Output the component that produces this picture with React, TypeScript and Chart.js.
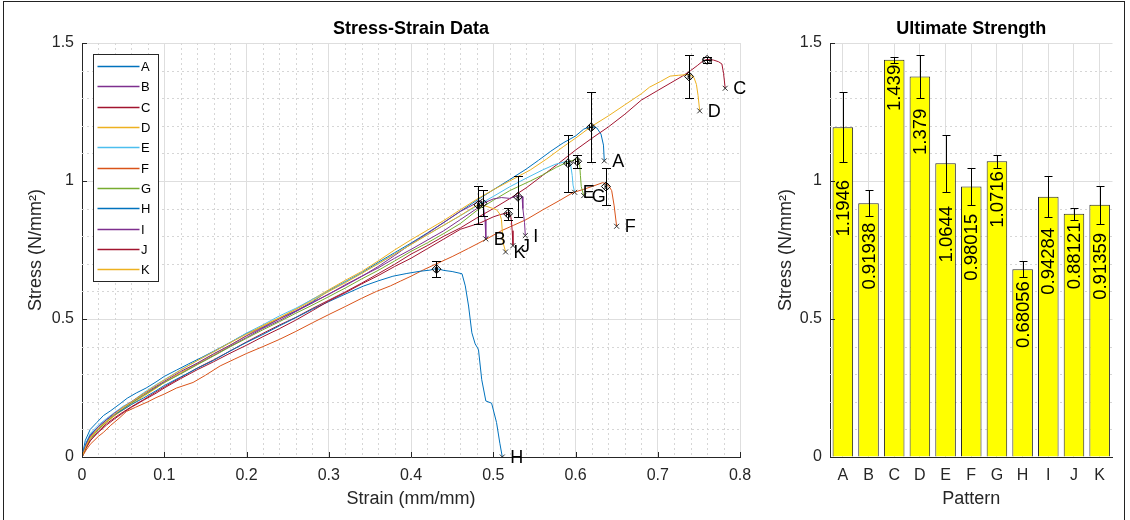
import React, { useEffect, useRef } from 'react';
import { Chart, registerables } from 'chart.js';

Chart.register(...registerables);

// ---------- data ----------
const patterns = ['A', 'B', 'C', 'D', 'E', 'F', 'G', 'H', 'I', 'J', 'K'];
const ultimateStrength = [1.1946, 0.91938, 1.439, 1.379, 1.0644, 0.98015, 1.0716, 0.68056, 0.94284, 0.88121, 0.91359];
const strengthError = [0.127, 0.047, 0.012, 0.078, 0.103, 0.066, 0.024, 0.029, 0.075, 0.021, 0.068];
const strainAtUltimate = [0.619, 0.487, 0.76, 0.738, 0.591, 0.637, 0.602, 0.431, 0.53, 0.518, 0.482];
const strainError = [0.002, 0.001, 0.005, 0.001, 0.002, 0.001, 0.002, 0.001, 0.001, 0.002, 0.001];
const seriesColors = ['#0072BD', '#7E2F8E', '#A2142F', '#EDB120', '#4DBEEE', '#D95319', '#77AC30', '#0072BD', '#7E2F8E', '#A2142F', '#EDB120'];
const strainTicks = [0, 0.1, 0.2, 0.3, 0.4, 0.5, 0.6, 0.7, 0.8];
const stressTicks = [0, 0.5, 1, 1.5];

const curveA = [[0,0],[.004,.06],[.01,.1],[.018,.125],[.026,.15],[.035,.168],[.045,.19],[.055,.213],[.066,.232],[.078,.25],[.09,.272],[.1,.292],[.115,.315],[.13,.338],[.145,.36],[.16,.383],[.18,.415],[.2,.448],[.22,.47],[.24,.503],[.26,.528],[.28,.562],[.3,.603],[.32,.635],[.34,.668],[.36,.705],[.38,.74],[.4,.775],[.42,.812],[.44,.85],[.46,.89],[.48,.93],[.5,.968],[.52,1.005],[.54,1.043],[.555,1.075],[.57,1.108],[.585,1.138],[.6,1.163],[.61,1.188],[.619,1.198],[.626,1.192],[.631,1.17],[.634,1.13],[.635,1.073]];
const curveB = [[0,0],[.005,.04],[.01,.072],[.02,.104],[.03,.13],[.04,.152],[.05,.174],[.06,.196],[.075,.224],[.09,.253],[.1,.27],[.12,.303],[.14,.336],[.16,.368],[.18,.401],[.2,.433],[.22,.466],[.24,.494],[.26,.527],[.28,.558],[.3,.59],[.32,.621],[.34,.654],[.36,.69],[.38,.73],[.4,.772],[.42,.81],[.44,.85],[.46,.89],[.47,.905],[.478,.918],[.484,.93],[.488,.913],[.49,.86],[.491,.79]];
const curveC = [[0,0],[.005,.032],[.01,.058],[.02,.094],[.03,.121],[.04,.143],[.05,.163],[.06,.182],[.075,.208],[.09,.236],[.1,.254],[.12,.288],[.14,.322],[.16,.352],[.18,.384],[.2,.417],[.22,.448],[.24,.478],[.26,.506],[.28,.538],[.3,.568],[.32,.598],[.34,.63],[.36,.664],[.38,.698],[.4,.735],[.42,.766],[.44,.8],[.46,.83],[.48,.866],[.5,.9],[.52,.936],[.54,.975],[.56,1.02],[.58,1.065],[.6,1.112],[.62,1.155],[.64,1.196],[.66,1.242],[.68,1.293],[.7,1.328],[.715,1.354],[.73,1.38],[.74,1.4],[.748,1.418],[.755,1.435],[.76,1.441],[.768,1.438],[.774,1.432],[.778,1.424],[.78,1.39],[.782,1.336]];
const curveD = [[0,0],[.005,.042],[.01,.07],[.02,.1],[.03,.126],[.04,.15],[.05,.171],[.06,.19],[.075,.22],[.09,.249],[.1,.27],[.12,.306],[.14,.339],[.16,.372],[.18,.405],[.2,.44],[.22,.474],[.24,.502],[.26,.536],[.28,.571],[.3,.606],[.32,.64],[.34,.672],[.36,.71],[.38,.75],[.4,.787],[.42,.822],[.44,.857],[.46,.896],[.48,.934],[.5,.968],[.52,1.0],[.545,1.04],[.565,1.08],[.585,1.124],[.6,1.155],[.618,1.195],[.64,1.236],[.66,1.276],[.68,1.316],[.69,1.34],[.703,1.36],[.715,1.38],[.725,1.383],[.738,1.386],[.744,1.375],[.747,1.35],[.749,1.31],[.751,1.254]];
const curveE = [[0,0],[.005,.052],[.01,.085],[.02,.116],[.03,.14],[.04,.162],[.05,.184],[.06,.2],[.075,.233],[.09,.262],[.1,.28],[.12,.316],[.14,.349],[.16,.381],[.18,.414],[.2,.449],[.22,.479],[.24,.511],[.26,.539],[.28,.571],[.3,.601],[.32,.634],[.34,.666],[.36,.7],[.38,.735],[.4,.77],[.42,.806],[.44,.84],[.46,.874],[.48,.91],[.5,.944],[.52,.979],[.54,1.01],[.56,1.04],[.575,1.06],[.585,1.068],[.591,1.071],[.594,1.06],[.596,1.02],[.597,.985],[.599,.959]];
const curveF = [[0,0],[.005,.025],[.01,.046],[.02,.075],[.026,.089],[.035,.115],[.045,.14],[.054,.165],[.065,.18],[.08,.2],[.09,.215],[.1,.228],[.115,.25],[.135,.27],[.15,.296],[.168,.33],[.185,.354],[.2,.375],[.22,.4],[.24,.426],[.26,.455],[.28,.486],[.3,.516],[.32,.545],[.34,.575],[.358,.6],[.375,.62],[.387,.637],[.4,.655],[.415,.678],[.431,.7],[.45,.726],[.47,.756],[.492,.79],[.51,.82],[.525,.84],[.54,.86],[.56,.895],[.581,.93],[.597,.958],[.61,.97],[.621,.981],[.633,.994],[.637,.99],[.641,.98],[.644,.965],[.647,.91],[.65,.836]];
const curveG = [[0,0],[.005,.035],[.01,.064],[.02,.1],[.03,.128],[.04,.154],[.05,.175],[.06,.195],[.075,.224],[.09,.251],[.1,.27],[.12,.301],[.14,.334],[.16,.366],[.18,.399],[.2,.43],[.22,.461],[.24,.49],[.26,.521],[.28,.55],[.3,.581],[.32,.612],[.34,.645],[.36,.676],[.38,.71],[.4,.745],[.42,.776],[.44,.81],[.46,.846],[.48,.893],[.5,.93],[.52,.965],[.545,1.0],[.56,1.022],[.577,1.05],[.59,1.068],[.599,1.077],[.603,1.083],[.605,1.06],[.606,1.02],[.607,.98],[.61,.947]];
const curveH = [[0,0],[.005,.05],[.01,.08],[.02,.11],[.03,.135],[.04,.155],[.05,.171],[.06,.19],[.075,.214],[.09,.24],[.1,.259],[.12,.29],[.14,.321],[.16,.35],[.18,.384],[.2,.415],[.22,.444],[.24,.475],[.26,.505],[.28,.535],[.3,.563],[.32,.59],[.342,.619],[.36,.638],[.378,.655],[.395,.665],[.411,.673],[.423,.677],[.431,.683],[.44,.676],[.45,.672],[.462,.664],[.466,.62],[.47,.547],[.474,.45],[.478,.41],[.482,.39],[.486,.28],[.491,.203],[.498,.195],[.504,.125],[.508,.05],[.511,0]];
const curveI = [[0,0],[.005,.046],[.01,.076],[.02,.11],[.03,.136],[.04,.16],[.05,.18],[.06,.2],[.075,.229],[.09,.256],[.1,.274],[.12,.31],[.14,.34],[.16,.374],[.18,.405],[.2,.439],[.22,.469],[.24,.5],[.26,.53],[.28,.56],[.3,.59],[.32,.624],[.34,.655],[.36,.685],[.38,.72],[.4,.752],[.42,.786],[.44,.82],[.46,.86],[.48,.9],[.49,.922],[.5,.935],[.51,.94],[.52,.937],[.53,.947],[.535,.943],[.536,.9],[.538,.85],[.539,.802]];
const curveJ = [[0,0],[.005,.034],[.01,.06],[.02,.09],[.03,.116],[.04,.139],[.05,.16],[.06,.18],[.075,.206],[.09,.231],[.1,.25],[.12,.284],[.14,.316],[.16,.345],[.18,.376],[.2,.405],[.22,.436],[.24,.465],[.26,.496],[.28,.53],[.3,.565],[.32,.595],[.34,.627],[.36,.657],[.38,.69],[.4,.72],[.42,.755],[.44,.79],[.46,.825],[.484,.848],[.5,.87],[.508,.878],[.518,.885],[.521,.875],[.522,.86],[.523,.82],[.524,.766]];
const curveK = [[0,0],[.005,.04],[.01,.07],[.02,.105],[.03,.13],[.04,.156],[.05,.18],[.06,.199],[.075,.23],[.09,.26],[.1,.279],[.12,.315],[.14,.349],[.16,.381],[.18,.414],[.2,.445],[.22,.476],[.24,.505],[.26,.535],[.28,.566],[.3,.6],[.32,.631],[.34,.665],[.36,.7],[.38,.735],[.4,.77],[.42,.805],[.44,.84],[.46,.875],[.476,.905],[.482,.914],[.49,.91],[.504,.896],[.508,.88],[.51,.86],[.512,.776],[.515,.743]];

const curves = [curveA, curveB, curveC, curveD, curveE, curveF, curveG, curveH, curveI, curveJ, curveK];

// ---------- styling ----------
const FONT = '"Liberation Sans", Arial, Helvetica, sans-serif';
const AXIS = '#262626';
const GRID = '#dedede';
const MINOR = '#d6d6d6';

const fmt = (v: number) => String(Number(Number(v).toFixed(2)));

function minorGridPlugin(xStep: number, xCount: number, yStep: number, yCount: number) {
  return {
    id: 'minorGrid',
    beforeDatasetsDraw(chart: any) {
      const { ctx, chartArea: a, scales } = chart;
      ctx.save();
      ctx.strokeStyle = MINOR;
      ctx.lineWidth = 1;
      ctx.setLineDash([2, 3]);
      if (xStep > 0) {
        for (let k = 1; k < xCount; k++) {
          if (k % 5 === 0) continue;
          const px = Math.round(scales.x.getPixelForValue(k * xStep)) + 0.5;
          ctx.beginPath();
          ctx.moveTo(px, a.top);
          ctx.lineTo(px, a.bottom);
          ctx.stroke();
        }
      }
      for (let k = 1; k < yCount; k++) {
        if (k % 5 === 0) continue;
        const py = Math.round(scales.y.getPixelForValue(k * yStep)) + 0.5;
        ctx.beginPath();
        ctx.moveTo(a.left, py);
        ctx.lineTo(a.right, py);
        ctx.stroke();
      }
      ctx.restore();
    },
  };
}

function inwardTicksPlugin(withX: boolean) {
  return {
    id: 'inwardTicks',
    afterDraw(chart: any) {
      const { ctx, chartArea: a, scales } = chart;
      ctx.save();
      ctx.strokeStyle = AXIS;
      ctx.lineWidth = 1;
      if (withX) {
        strainTicks.forEach((v) => {
          const px = Math.round(scales.x.getPixelForValue(v)) + 0.5;
          ctx.beginPath();
          ctx.moveTo(px, a.bottom);
          ctx.lineTo(px, a.bottom - 5);
          ctx.stroke();
        });
      }
      stressTicks.forEach((v) => {
        const py = Math.round(scales.y.getPixelForValue(v)) + 0.5;
        ctx.beginPath();
        ctx.moveTo(a.left, py);
        ctx.lineTo(a.left + 5, py);
        ctx.stroke();
      });
      ctx.restore();
    },
  };
}

const curveMarksPlugin = {
  id: 'curveMarks',
  afterDatasetsDraw(chart: any) {
    const { ctx, scales } = chart;
    const xs = scales.x;
    const ys = scales.y;
    ctx.save();
    ctx.strokeStyle = '#000';
    ctx.lineWidth = 1;
    for (let i = 0; i < patterns.length; i++) {
      const cx = Math.round(xs.getPixelForValue(strainAtUltimate[i])) + 0.5;
      const cy = ys.getPixelForValue(ultimateStrength[i]);
      const yt = Math.round(ys.getPixelForValue(ultimateStrength[i] + strengthError[i])) + 0.5;
      const yb = Math.round(ys.getPixelForValue(ultimateStrength[i] - strengthError[i])) + 0.5;
      ctx.beginPath();
      ctx.moveTo(cx, yt); ctx.lineTo(cx, yb);
      ctx.moveTo(cx - 4.5, yt); ctx.lineTo(cx + 4.5, yt);
      ctx.moveTo(cx - 4.5, yb); ctx.lineTo(cx + 4.5, yb);
      const xl = xs.getPixelForValue(strainAtUltimate[i] - strainError[i]);
      const xr = xs.getPixelForValue(strainAtUltimate[i] + strainError[i]);
      const my = Math.round(cy) + 0.5;
      ctx.moveTo(xl, my); ctx.lineTo(xr, my);
      ctx.moveTo(xl, my - 2.5); ctx.lineTo(xl, my + 2.5);
      ctx.moveTo(xr, my - 2.5); ctx.lineTo(xr, my + 2.5);
      ctx.stroke();
    }
    // failure labels
    ctx.fillStyle = '#000';
    ctx.font = `18px ${FONT}`;
    ctx.textAlign = 'left';
    ctx.textBaseline = 'middle';
    curves.forEach((c, i) => {
      const last = c[c.length - 1];
      const px = xs.getPixelForValue(last[0]);
      const py = ys.getPixelForValue(last[1]);
      ctx.fillText(patterns[i], px + 8, py + 1);
    });
    ctx.restore();
  },
};

const legendPlugin = {
  id: 'insideLegend',
  afterDraw(chart: any) {
    const { ctx } = chart;
    const bx = 93.5, by = 54.5, bw = 65, bh = 227;
    ctx.save();
    ctx.fillStyle = '#fff';
    ctx.fillRect(bx, by, bw, bh);
    ctx.strokeStyle = AXIS;
    ctx.lineWidth = 1;
    ctx.strokeRect(bx, by, bw, bh);
    ctx.font = `13px ${FONT}`;
    ctx.textAlign = 'left';
    ctx.textBaseline = 'middle';
    patterns.forEach((p, i) => {
      const y = Math.round(66 + i * 20.33) + 0.5;
      ctx.strokeStyle = seriesColors[i];
      ctx.lineWidth = 1.3;
      ctx.beginPath();
      ctx.moveTo(97.5, y);
      ctx.lineTo(139.5, y);
      ctx.stroke();
      ctx.fillStyle = '#000';
      ctx.fillText(p, 141, y + 1);
    });
    ctx.restore();
  },
};

const barExtrasPlugin = {
  id: 'barExtras',
  afterDatasetsDraw(chart: any) {
    const { ctx, scales } = chart;
    const xs = scales.x;
    const ys = scales.y;
    ctx.save();
    ctx.fillStyle = '#000';
    ctx.font = `18.5px ${FONT}`;
    ctx.textAlign = 'right';
    ctx.textBaseline = 'middle';
    ultimateStrength.forEach((v, i) => {
      const px = xs.getPixelForValue(i);
      const py = ys.getPixelForValue(v - 1.5 * strengthError[i]);
      ctx.save();
      ctx.translate(px + 1, py);
      ctx.rotate(-Math.PI / 2);
      ctx.fillText(String(v), 0, 0);
      ctx.restore();
    });
    ctx.strokeStyle = '#000';
    ctx.lineWidth = 1;
    ultimateStrength.forEach((v, i) => {
      const px = Math.round(xs.getPixelForValue(i)) + 0.5;
      const yt = Math.round(ys.getPixelForValue(v + strengthError[i])) + 0.5;
      const yb = Math.round(ys.getPixelForValue(v - strengthError[i])) + 0.5;
      ctx.beginPath();
      ctx.moveTo(px, yt); ctx.lineTo(px, yb);
      ctx.moveTo(px - 4, yt); ctx.lineTo(px + 4, yt);
      ctx.moveTo(px - 4, yb); ctx.lineTo(px + 4, yb);
      ctx.stroke();
    });
    ctx.restore();
  },
};

const tickFont = { family: FONT, size: 16 };
const labelFont = { family: FONT, size: 18 };
const titleFont = { family: FONT, size: 18, weight: 'bold' as const };

export default function App() {
  const leftRef = useRef<HTMLCanvasElement>(null);
  const rightRef = useRef<HTMLCanvasElement>(null);

  useEffect(() => {
    const n = curves.length;
    const lineSets = curves.map((c, i) => ({
      type: 'scatter' as const,
      label: patterns[i],
      data: c.map((p) => ({ x: p[0], y: p[1] })),
      showLine: true,
      borderColor: seriesColors[i],
      backgroundColor: seriesColors[i],
      borderWidth: 1,
      pointRadius: 0,
      tension: 0,
      fill: false,
      order: n - i + 2,
    }));
    const diamondSet = {
      type: 'scatter' as const,
      label: 'ultimate',
      data: strainAtUltimate.map((x, i) => ({ x, y: ultimateStrength[i] })),
      pointStyle: 'rectRot',
      pointRadius: 4.5,
      borderColor: '#000',
      backgroundColor: 'rgba(0,0,0,0)',
      borderWidth: 1,
      order: 1,
    };
    const failureSet = {
      type: 'scatter' as const,
      label: 'failure',
      data: curves.map((c) => ({ x: c[c.length - 1][0], y: c[c.length - 1][1] })),
      pointStyle: 'crossRot',
      pointRadius: 3.5,
      borderColor: '#333',
      backgroundColor: '#333',
      borderWidth: 1,
      order: 0,
    };

    const left = new Chart(leftRef.current as HTMLCanvasElement, {
      type: 'scatter',
      data: { datasets: [...lineSets, diamondSet, failureSet] as any },
      options: {
        responsive: false,
        animation: false,
        devicePixelRatio: 1,
        events: [],
        layout: { padding: { left: 20, right: 30, top: 0, bottom: 8 } },
        plugins: {
          legend: { display: false },
          tooltip: { enabled: false },
          title: {
            display: true,
            text: 'Stress-Strain Data',
            fullSize: false,
            color: '#000',
            font: titleFont,
            padding: { top: 18, bottom: 3.4 },
          },
        },
        scales: {
          x: {
            type: 'linear',
            min: 0,
            max: 0.8,
            afterBuildTicks: (s: any) => { s.ticks = strainTicks.map((v) => ({ value: v })); },
            afterFit: (s: any) => { s.height = 55; },
            grid: { color: GRID, drawTicks: false },
            border: { color: AXIS, width: 1 },
            ticks: { padding: 9, color: AXIS, font: tickFont, maxRotation: 0, autoSkip: false, callback: (v: any) => fmt(v) },
            title: { display: true, text: 'Strain (mm/mm)', color: AXIS, font: labelFont, padding: { top: 0, bottom: 2 } },
          },
          y: {
            type: 'linear',
            min: 0,
            max: 1.5,
            afterBuildTicks: (s: any) => { s.ticks = stressTicks.map((v) => ({ value: v })); },
            afterFit: (s: any) => { s.width = 62; },
            grid: { color: GRID, drawTicks: false },
            border: { color: AXIS, width: 1 },
            ticks: { padding: 8, color: AXIS, font: tickFont, autoSkip: false, callback: (v: any) => fmt(v) },
            title: { display: true, text: 'Stress (N/mm²)', color: AXIS, font: labelFont, padding: { top: 5, bottom: 0 } },
          },
        },
      } as any,
      plugins: [minorGridPlugin(0.02, 40, 0.1, 15), curveMarksPlugin, inwardTicksPlugin(true), legendPlugin],
    });

    const right = new Chart(rightRef.current as HTMLCanvasElement, {
      type: 'bar',
      data: {
        labels: patterns,
        datasets: [
          {
            label: 'Ultimate Strength',
            data: ultimateStrength,
            backgroundColor: '#ffff00',
            borderColor: AXIS,
            borderWidth: 1,
            barPercentage: 0.8,
            categoryPercentage: 1,
          },
        ],
      },
      options: {
        responsive: false,
        animation: false,
        devicePixelRatio: 1,
        events: [],
        layout: { padding: { left: 2, right: 17.5, top: 0, bottom: 8 } },
        plugins: {
          legend: { display: false },
          tooltip: { enabled: false },
          title: {
            display: true,
            text: 'Ultimate Strength',
            fullSize: false,
            color: '#000',
            font: titleFont,
            padding: { top: 18, bottom: 3.4 },
          },
        },
        scales: {
          x: {
            afterFit: (s: any) => { s.height = 55; },
            grid: { color: GRID, drawTicks: false, offset: false },
            border: { color: AXIS, width: 1 },
            ticks: { padding: 9, color: AXIS, font: tickFont, maxRotation: 0, autoSkip: false },
            title: { display: true, text: 'Pattern', color: AXIS, font: labelFont, padding: { top: 0, bottom: 2 } },
          },
          y: {
            type: 'linear',
            min: 0,
            max: 1.5,
            afterBuildTicks: (s: any) => { s.ticks = stressTicks.map((v) => ({ value: v })); },
            afterFit: (s: any) => { s.width = 58; },
            grid: { color: GRID, drawTicks: false },
            border: { color: AXIS, width: 1 },
            ticks: { padding: 8, color: AXIS, font: tickFont, autoSkip: false, callback: (v: any) => fmt(v) },
            title: { display: true, text: 'Stress (N/mm²)', color: AXIS, font: labelFont, padding: { top: 3.2, bottom: 0 } },
          },
        },
      } as any,
      plugins: [minorGridPlugin(0, 0, 0.1, 15), inwardTicksPlugin(false), barExtrasPlugin],
    });

    return () => {
      left.destroy();
      right.destroy();
    };
  }, []);

  return (
    <div style={{ position: 'absolute', left: 0, top: 0, width: 1130, height: 520, background: '#fff', overflow: 'hidden' }}>
      <canvas ref={leftRef} width={770} height={520} style={{ position: 'absolute', left: 0, top: 0, width: 770, height: 520 }} />
      <canvas ref={rightRef} width={360} height={520} style={{ position: 'absolute', left: 770, top: 0, width: 360, height: 520 }} />
      <div style={{ position: 'absolute', left: 3, top: 1, width: 1122, height: 560, border: '1px solid #222', boxSizing: 'border-box', pointerEvents: 'none' }} />
    </div>
  );
}
